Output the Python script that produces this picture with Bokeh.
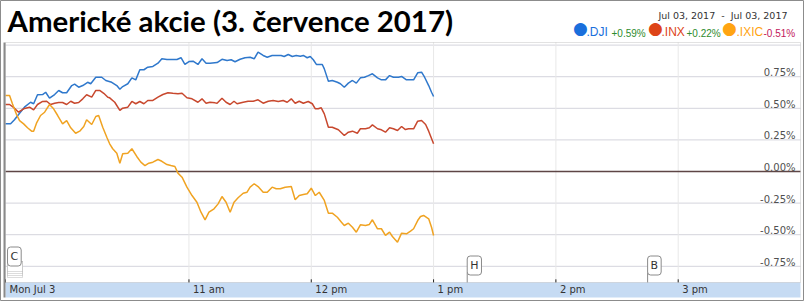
from bokeh.plotting import figure
from bokeh.models import Range1d, Label, BoxAnnotation
from bokeh.core.properties import value
from bokeh.embed import file_html
from bokeh.resources import INLINE

# ---------------- data ----------------
title_text = "Americké akcie (3. července 2017)"
date_text = "Jul 03, 2017\u00a0\u00a0-\u00a0\u00a0Jul 03, 2017"

series_names = [".DJI", ".INX", ".IXIC"]
series_changes = ["+0.59%", "+0.22%", "-0.51%"]

# minutes after 9:30 market open, change in percent
dji_t = [0, 2.5, 4.4, 6.9, 9.3, 12.3, 13.8, 15.7, 18.2, 19.7, 21.6, 24.1, 26.1, 28.0, 30.0,
         32.5, 33.9, 35.9, 37.9, 40.3, 41.8, 44.3, 47.2, 49.2, 52.1, 54.6, 56.1, 57.5, 60.0,
         62.0, 63.9, 65.9, 67.9, 69.8, 72.3, 74.8, 76.7, 79.2, 81.6, 84.1, 86.1, 88.0, 90.0,
         92.0, 94.4, 96.4, 98.4, 100.3, 103.8, 106.2, 108.7, 110.7, 112.6, 115.1, 117.5, 120.0,
         122.0, 123.9, 126.4, 128.4, 130.8, 133.3, 135.2, 136.7, 138.7, 140.7, 142.6, 144.6,
         146.1, 148.0, 149.5, 151.0, 152.5, 155.4, 156.4, 158.4, 160.3, 162.8, 164.3, 166.2,
         168.2, 170.2, 172.1, 174.1, 176.1, 178.0, 180.0, 182.5, 184.4, 186.4, 188.4, 190.3,
         192.8, 194.3, 196.7, 198.7, 200.2, 202.2, 204.1, 205.6, 207.6, 209.0, 210.0]
dji_v = [0.377, 0.377, 0.409, 0.461, 0.509, 0.548, 0.536, 0.607, 0.609, 0.627, 0.580, 0.609,
         0.641, 0.623, 0.623, 0.680, 0.691, 0.667, 0.680, 0.706, 0.694, 0.746, 0.746, 0.720,
         0.706, 0.680, 0.651, 0.672, 0.694, 0.741, 0.725, 0.805, 0.805, 0.825, 0.831, 0.857,
         0.892, 0.886, 0.886, 0.886, 0.900, 0.847, 0.870, 0.873, 0.847, 0.892, 0.857, 0.857,
         0.862, 0.888, 0.878, 0.884, 0.868, 0.888, 0.900, 0.904, 0.892, 0.944, 0.918, 0.904,
         0.918, 0.918, 0.918, 0.910, 0.926, 0.910, 0.918, 0.912, 0.918, 0.900, 0.910, 0.884,
         0.847, 0.847, 0.812, 0.714, 0.720, 0.706, 0.694, 0.667, 0.699, 0.720, 0.699, 0.741,
         0.746, 0.759, 0.773, 0.741, 0.725, 0.725, 0.759, 0.746, 0.746, 0.752, 0.725, 0.725,
         0.725, 0.781, 0.786, 0.746, 0.680, 0.627, 0.593]

inx_t = [0, 2.0, 4.4, 6.4, 8.9, 11.8, 13.8, 15.7, 18.2, 20.2, 22.1, 24.1, 26.1, 28.0, 30.0,
         32.0, 33.9, 35.9, 37.9, 39.8, 42.3, 44.3, 46.2, 48.2, 50.2, 51.1, 53.6, 56.1, 57.5,
         60.0, 62.0, 63.9, 65.9, 67.9, 69.8, 72.3, 74.8, 77.2, 79.7, 82.1, 84.6, 86.6, 89.0,
         91.5, 94.4, 96.4, 98.4, 100.3, 102.8, 103.8, 106.2, 108.2, 110.2, 112.1, 113.6, 116.6,
         119.0, 121.5, 123.9, 126.4, 128.9, 131.3, 133.8, 136.2, 138.2, 140.2, 142.1, 144.1,
         146.1, 148.5, 150.5, 152.0, 153.4, 154.9, 156.4, 158.4, 160.3, 163.3, 166.2, 168.2,
         170.2, 172.6, 174.1, 176.6, 178.5, 180.0, 182.5, 184.4, 186.4, 188.4, 190.3, 192.3,
         194.3, 196.2, 197.7, 200.2, 202.2, 204.1, 206.1, 207.6, 210.0]
inx_v = [0.530, 0.530, 0.501, 0.469, 0.496, 0.509, 0.488, 0.530, 0.554, 0.556, 0.530, 0.540,
         0.546, 0.546, 0.530, 0.556, 0.540, 0.546, 0.575, 0.607, 0.588, 0.641, 0.641, 0.619,
         0.588, 0.583, 0.548, 0.483, 0.501, 0.509, 0.554, 0.536, 0.554, 0.536, 0.562, 0.562,
         0.588, 0.609, 0.623, 0.619, 0.615, 0.619, 0.583, 0.575, 0.548, 0.575, 0.540, 0.548,
         0.543, 0.540, 0.580, 0.548, 0.530, 0.556, 0.536, 0.548, 0.556, 0.556, 0.567, 0.540,
         0.556, 0.562, 0.554, 0.562, 0.548, 0.575, 0.540, 0.556, 0.540, 0.554, 0.536, 0.496,
         0.496, 0.504, 0.456, 0.350, 0.350, 0.330, 0.285, 0.311, 0.319, 0.303, 0.338, 0.338,
         0.346, 0.369, 0.338, 0.330, 0.311, 0.346, 0.338, 0.324, 0.356, 0.332, 0.338, 0.338,
         0.398, 0.403, 0.372, 0.319, 0.219]

ixic_t = [0, 2.0, 3.4, 5.4, 6.9, 8.9, 10.8, 12.8, 13.8, 15.2, 17.2, 19.2, 21.6, 23.6, 25.6,
          28.0, 30.0, 32.0, 34.4, 36.4, 38.4, 39.8, 42.3, 44.3, 45.7, 47.7, 49.7, 51.1, 52.6,
          54.6, 56.1, 57.5, 60.0, 62.0, 64.4, 66.4, 68.4, 70.3, 72.3, 74.8, 76.7, 79.2, 81.1,
          83.1, 84.6, 86.6, 89.0, 91.5, 93.9, 95.9, 97.9, 99.8, 102.3, 104.3, 106.2, 108.2,
          110.2, 112.1, 114.1, 116.6, 118.5, 120.0, 122.0, 123.9, 126.4, 128.4, 130.8, 132.8,
          134.8, 137.2, 140.2, 142.1, 144.1, 146.1, 148.0, 150.0, 152.0, 153.9, 156.4, 158.4,
          160.3, 162.8, 164.8, 166.2, 168.2, 170.2, 172.1, 174.1, 176.6, 178.5, 180.0, 182.5,
          184.4, 186.4, 188.4, 189.8, 192.3, 194.3, 196.7, 198.7, 200.2, 202.2, 203.6, 205.1,
          207.6, 209.0, 210.0]
ixic_v = [0.601, 0.601, 0.536, 0.451, 0.403, 0.377, 0.346, 0.319, 0.319, 0.382, 0.443, 0.469,
          0.530, 0.496, 0.443, 0.377, 0.403, 0.346, 0.303, 0.319, 0.356, 0.409, 0.372, 0.435,
          0.443, 0.350, 0.271, 0.219, 0.180, 0.145, 0.066, 0.140, 0.145, 0.180, 0.119, 0.074,
          0.047, 0.066, 0.074, 0.095, 0.081, 0.055, 0.047, 0.040, -0.013, -0.045, -0.124,
          -0.190, -0.243, -0.322, -0.382, -0.322, -0.295, -0.256, -0.198, -0.243, -0.322,
          -0.243, -0.208, -0.172, -0.164, -0.124, -0.097, -0.119, -0.164, -0.164, -0.124,
          -0.137, -0.137, -0.124, -0.119, -0.224, -0.190, -0.182, -0.176, -0.132, -0.190,
          -0.164, -0.229, -0.330, -0.330, -0.362, -0.401, -0.427, -0.409, -0.441, -0.480,
          -0.422, -0.427, -0.419, -0.382, -0.453, -0.453, -0.506, -0.480, -0.514, -0.559,
          -0.488, -0.493, -0.472, -0.453, -0.388, -0.356, -0.348, -0.374, -0.441, -0.506]

x_ticks = [0, 90, 150, 210, 270, 330]
x_tick_labels = ["Mon Jul 3", "11 am", "12 pm", "1 pm", "2 pm", "3 pm"]
y_grid_values = [-0.75, -0.5, -0.25, 0.25, 0.5, 0.75, 1.0]
y_ticks = [-0.75, -0.5, -0.25, 0.0, 0.25, 0.5, 0.75]
y_tick_labels = ["-0.75%", "-0.50%", "-0.25%", "0.00%", "0.25%", "0.50%", "0.75%"]

flag_labels = ["C", "H", "B"]
flag_times = [0.5, 226.5, 315.0]

line_colors = ["#2f78cc", "#c8482e", "#f0a322"]
dot_colors = ["#1a6fdc", "#dd4418", "#ffa412"]
change_colors = ["#2e8b2e", "#2e8b2e", "#c2185b"]

# session span (minutes) and the visible value window of the plotting area
T0, T1 = 0, 390
V_LO, V_HI = -0.878, 1.021

# ---------------- figure ----------------
# frame covers the whole canvas; the plotting area is drawn inside it
p = figure(width=804, height=301, x_range=Range1d(-2.453, 391.962),
           y_range=Range1d(-1.0285, 1.3529), output_backend="svg", toolbar_location=None,
           x_axis_location=None, y_axis_location=None,
           min_border=0, background_fill_color="white", border_fill_color="white")
p.grid.visible = False
p.outline_line_color = "#8c8c8c"
p.outline_line_width = 1

# time band below the plotting area (screen px: frame bottom-left origin)
p.add_layout(BoxAnnotation(left=5, right=800, bottom=4, top=19, left_units="screen",
                           right_units="screen", bottom_units="screen", top_units="screen",
                           fill_color="#c6dbf3", fill_alpha=1.0, line_color=None,
                           level="underlay"))

# grid lines
n = len(y_grid_values)
p.segment(x0=[T0] * n, x1=[T1] * n, y0=y_grid_values, y1=y_grid_values,
          line_color="#d4d4dc", line_width=1)
m = len(x_ticks) - 1
p.segment(x0=x_ticks[1:], x1=x_ticks[1:], y0=[V_LO] * m, y1=[V_HI] * m,
          line_color="#e8e8e8", line_width=1)
p.segment(x0=[T0], x1=[T1], y0=[0], y1=[0], line_color="#5e4646", line_width=1.5)

# tick marks pointing up from the band
k = len(x_ticks)
p.segment(x0=x_ticks, x1=x_ticks, y0=[V_LO] * k, y1=[V_LO + 0.025] * k,
          line_color="#222222", line_width=1)

# plotting area border
p.add_layout(BoxAnnotation(left=5, right=800, bottom=19, top=259, left_units="screen",
                           right_units="screen", bottom_units="screen", top_units="screen",
                           fill_alpha=0, line_color="#a0a0a0", line_width=1))
p.add_layout(BoxAnnotation(left=3, right=5, bottom=4, top=259, left_units="screen",
                           right_units="screen", bottom_units="screen", top_units="screen",
                           fill_color="#8a8a8a", fill_alpha=1, line_color=None))

for t, v, c in [(dji_t, dji_v, line_colors[0]), (inx_t, inx_v, line_colors[1]),
                (ixic_t, ixic_v, line_colors[2])]:
    p.line(t, v, line_color=c, line_width=1.5)

# y tick labels inside plot, right side
p.text(x=[T1] * len(y_ticks), y=y_ticks, text=y_tick_labels, text_align="right",
       text_baseline="alphabetic", x_offset=-5, y_offset=-4, text_font=value("DejaVu Sans"),
       text_font_size="10px", text_color="#505050")

# x tick labels in the band
for t, lab in zip(x_ticks, x_tick_labels):
    p.add_layout(Label(x=t, y=12, x_units="data", y_units="screen", text=lab,
                       x_offset=4, text_font="DejaVu Sans", text_font_size="10px",
                       text_color="#333333", text_baseline="alphabetic"))

# flags
p.segment(x0=flag_times[1:], x1=flag_times[1:], y0=[V_LO] * 2, y1=[V_LO + 0.08] * 2,
          line_color="#8a8a8a", line_width=1)
for j in range(3, -1, -1):
    p.add_layout(BoxAnnotation(left=7, right=22, bottom=30 - 2 * j, top=40,
                               left_units="screen", right_units="screen",
                               bottom_units="screen", top_units="screen",
                               fill_color="white", fill_alpha=1, line_color="#8a8a8a"))
for lab, t in zip(flag_labels, flag_times):
    p.add_layout(Label(x=t, y=36 if lab != "C" else 45, x_units="data", y_units="screen",
                       text=lab, x_offset=0 if lab != "C" else 1, text_font="DejaVu Sans",
                       text_font_size="11px", text_color="#333333", text_baseline="middle",
                       text_align="left", padding=3, border_radius=3,
                       background_fill_color="white", border_line_color="#8a8a8a"))

# title
p.add_layout(Label(x=7, y=281, x_units="screen", y_units="screen", text=title_text,
                   text_font="Lato", text_font_style="bold", text_font_size="29.4px",
                   text_color="#000000", text_baseline="alphabetic"))

# date range
p.add_layout(Label(x=787, y=286.5, x_units="screen", y_units="screen", text=date_text,
                   text_font="DejaVu Sans", text_font_size="9.5px", text_color="#333333",
                   text_align="right", text_baseline="alphabetic"))

# legend
dot_x = [580, 655, 729]
name_x = [586, 661, 736]
change_x = [611, 686, 763]
for i in range(3):
    p.add_layout(Label(x=dot_x[i], y=274, x_units="screen", y_units="screen", text="\u25cf",
                       text_font="DejaVu Sans", text_font_size="17px", text_color=dot_colors[i],
                       text_align="center", text_baseline="middle"))
    p.add_layout(Label(x=name_x[i], y=270, x_units="screen", y_units="screen",
                       text=series_names[i], text_font="Liberation Sans", text_font_size="12px",
                       text_color=dot_colors[i], text_baseline="alphabetic"))
    p.add_layout(Label(x=change_x[i], y=268, x_units="screen", y_units="screen",
                       text=series_changes[i], text_font="Liberation Sans",
                       text_font_size="10px", text_color=change_colors[i],
                       text_baseline="alphabetic"))

open("out.html", "w").write(file_html(p, INLINE))
